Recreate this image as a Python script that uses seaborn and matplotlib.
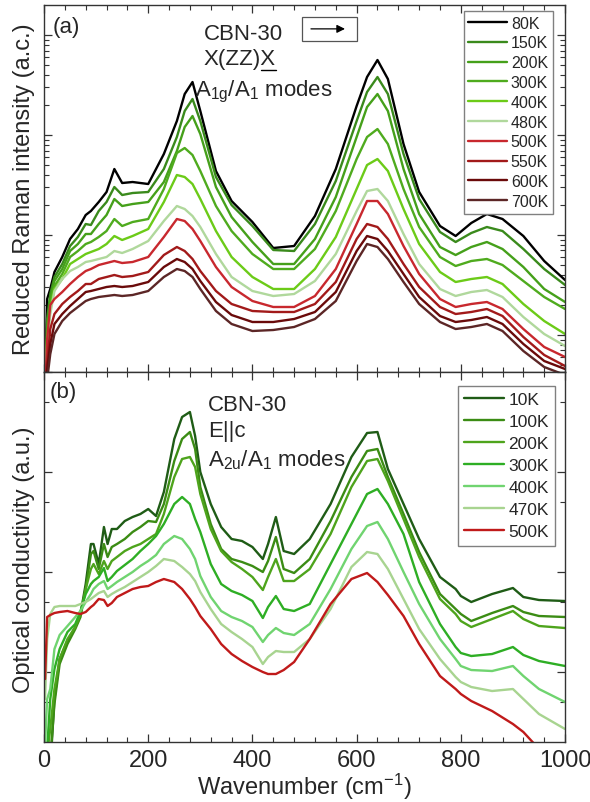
import numpy as np
import pandas as pd
import matplotlib
matplotlib.use("Agg")
import matplotlib.pyplot as plt
import seaborn as sns
from matplotlib.ticker import LogLocator, MultipleLocator, NullFormatter
from matplotlib.patches import Rectangle
from matplotlib.lines import Line2D

# ---- panel (a): reduced Raman intensity, log10 of arb. units ----
w_raman = [2, 6, 12, 20, 35, 50, 65, 80, 90, 105, 120, 135, 150, 170, 200, 230, 255, 270, 285, 300,
           330, 360, 400, 440, 480, 520, 560, 600, 620, 640, 660, 690, 720, 760, 790, 820, 850, 880,
           920, 960, 1000]
r80 = [-1.5, -0.64, -0.54, -0.37, -0.22, -0.04, 0.06, 0.20, 0.24, 0.33, 0.43, 0.66, 0.52, 0.53, 0.51, 0.81,
       1.14, 1.41, 1.53, 1.24, 0.64, 0.34, 0.13, -0.13, -0.11, 0.19, 0.66, 1.29, 1.58, 1.75, 1.56, 0.91,
       0.43, 0.09, -0.01, 0.12, 0.21, 0.16, -0.01, -0.26, -0.45]
r150 = [-1.5, -0.84, -0.59, -0.42, -0.29, -0.11, -0.02, 0.11, 0.10, 0.24, 0.33, 0.48, 0.40, 0.42, 0.43, 0.66,
        0.98, 1.24, 1.36, 1.14, 0.58, 0.30, 0.09, -0.15, -0.16, 0.11, 0.54, 1.14, 1.43, 1.58, 1.41, 0.81,
        0.36, 0.03, -0.07, 0.02, 0.08, 0.04, -0.14, -0.34, -0.50]
r200 = [-1.5, -0.94, -0.64, -0.46, -0.34, -0.16, -0.09, 0.01, 0.01, 0.11, 0.20, 0.36, 0.29, 0.31, 0.33, 0.53,
        0.84, 1.08, 1.19, 1.01, 0.48, 0.18, -0.07, -0.29, -0.29, -0.04, 0.38, 0.98, 1.28, 1.41, 1.24, 0.66,
        0.21, -0.12, -0.20, -0.12, -0.07, -0.14, -0.32, -0.54, -0.67]
r300 = [-1.5, -0.99, -0.69, -0.51, -0.39, -0.22, -0.16, -0.09, -0.07, -0.02, 0.04, 0.16, 0.09, 0.13, 0.16, 0.46,
        0.82, 0.87, 0.80, 0.64, 0.29, 0.04, -0.19, -0.34, -0.34, -0.14, 0.24, 0.76, 0.98, 1.06, 0.91, 0.46,
        0.08, -0.22, -0.31, -0.26, -0.24, -0.30, -0.46, -0.62, -0.74]
r400 = [-1.5, -1.04, -0.74, -0.54, -0.44, -0.29, -0.24, -0.19, -0.17, -0.14, -0.09, -0.01, -0.05, -0.01, 0.06,
        0.33, 0.60, 0.58, 0.51, 0.36, 0.04, -0.22, -0.42, -0.54, -0.54, -0.34, -0.02, 0.46, 0.70, 0.76, 0.64,
        0.26, -0.09, -0.37, -0.47, -0.44, -0.42, -0.49, -0.69, -0.86, -0.99]
r480 = [-1.5, -1.09, -0.79, -0.56, -0.44, -0.36, -0.32, -0.27, -0.26, -0.24, -0.22, -0.16, -0.18, -0.14, -0.06,
        0.14, 0.29, 0.26, 0.19, 0.08, -0.19, -0.42, -0.56, -0.61, -0.59, -0.46, -0.19, 0.24, 0.44, 0.46, 0.34,
        0.01, -0.29, -0.54, -0.61, -0.57, -0.55, -0.62, -0.82, -0.99, -1.11]
r500 = [-1.6, -1.04, -0.70, -0.64, -0.57, -0.49, -0.42, -0.36, -0.34, -0.30, -0.28, -0.26, -0.28, -0.27, -0.22,
        -0.02, 0.16, 0.14, 0.06, -0.06, -0.32, -0.52, -0.66, -0.72, -0.72, -0.61, -0.34, 0.11, 0.34, 0.34, 0.21,
        -0.11, -0.39, -0.64, -0.72, -0.69, -0.67, -0.74, -0.94, -1.12, -1.22]
r550 = [-1.6, -1.29, -0.94, -0.79, -0.69, -0.62, -0.56, -0.49, -0.49, -0.44, -0.42, -0.40, -0.42, -0.41, -0.37,
        -0.20, -0.12, -0.16, -0.24, -0.36, -0.56, -0.69, -0.76, -0.77, -0.77, -0.69, -0.47, -0.04, 0.11, 0.08,
        -0.04, -0.29, -0.52, -0.72, -0.79, -0.77, -0.74, -0.81, -1.02, -1.20, -1.31]
r600 = [-1.6, -1.34, -1.09, -0.89, -0.79, -0.71, -0.64, -0.57, -0.56, -0.54, -0.52, -0.51, -0.52, -0.51, -0.47,
        -0.32, -0.24, -0.27, -0.34, -0.46, -0.67, -0.80, -0.87, -0.87, -0.84, -0.77, -0.57, -0.16, -0.01, -0.04,
        -0.16, -0.39, -0.62, -0.81, -0.87, -0.85, -0.82, -0.89, -1.09, -1.26, -1.34]
r700 = [-1.6, -1.45, -1.19, -0.99, -0.86, -0.78, -0.72, -0.66, -0.64, -0.62, -0.61, -0.60, -0.61, -0.60, -0.56,
        -0.42, -0.34, -0.36, -0.42, -0.54, -0.76, -0.89, -0.96, -0.95, -0.92, -0.84, -0.66, -0.26, -0.09, -0.12,
        -0.24, -0.47, -0.69, -0.87, -0.94, -0.92, -0.89, -0.96, -1.16, -1.32, -1.40]
raman_labels = ['80K', '150K', '200K', '300K', '400K', '480K', '500K', '550K', '600K', '700K']
raman_colors = ['#000000', '#3a8a1c', '#45a01a', '#4fab1e', '#6ccb18', '#b0d89c',
                '#c8282e', '#a21a1a', '#6a0a0a', '#5c2626']

# ---- panel (b): optical conductivity, log10 of arb. units ----
w_opt = [2, 6, 12, 20, 30, 45, 60, 70, 80, 90, 95, 105, 115, 122, 130, 140, 155, 170, 185, 200,
         215, 230, 250, 265, 280, 290, 300, 320, 340, 360, 380, 400, 420, 430, 445, 460, 480, 510,
         550, 590, 620, 640, 660, 690, 720, 760, 790, 800, 820, 860, 900, 920, 950, 1000]
c10 = [-2.27, -2.27, -1.97, -1.27, -0.87, -0.69, -0.55, -0.42, -0.12, 0.28, 0.28, 0.08, 0.45, 0.28, 0.43, 0.43,
       0.51, 0.55, 0.58, 0.63, 0.56, 0.80, 1.33, 1.55, 1.60, 1.36, 1.00, 0.68, 0.45, 0.33, 0.31, 0.25, 0.13,
       0.28, 0.55, 0.21, 0.18, 0.33, 0.68, 1.15, 1.39, 1.40, 1.03, 0.68, 0.33, -0.05, -0.17, -0.24, -0.30,
       -0.22, -0.16, -0.25, -0.28, -0.29]
c100 = [-2.27, -2.27, -1.87, -1.32, -0.92, -0.72, -0.57, -0.45, -0.17, 0.18, 0.21, 0.03, 0.28, 0.15, 0.25, 0.28,
        0.33, 0.40, 0.45, 0.51, 0.50, 0.68, 1.11, 1.33, 1.40, 1.23, 0.85, 0.48, 0.23, 0.13, 0.10, 0.06, 0.00,
        0.11, 0.35, 0.03, -0.01, 0.13, 0.51, 0.95, 1.21, 1.23, 0.95, 0.58, 0.20, -0.22, -0.37, -0.42, -0.49,
        -0.41, -0.34, -0.40, -0.44, -0.45]
c200 = [-2.17, -1.82, -1.57, -1.17, -0.87, -0.67, -0.55, -0.42, -0.17, 0.03, 0.08, -0.02, 0.11, 0.03, 0.11, 0.15,
        0.21, 0.25, 0.28, 0.33, 0.38, 0.58, 0.95, 1.13, 1.15, 1.05, 0.78, 0.43, 0.21, 0.10, 0.03, -0.05, -0.18,
        -0.05, 0.13, -0.09, -0.09, 0.03, 0.38, 0.85, 1.11, 1.13, 0.91, 0.53, 0.15, -0.27, -0.42, -0.49, -0.55,
        -0.47, -0.39, -0.47, -0.54, -0.56]
c300 = [-1.87, -1.77, -1.27, -0.97, -0.77, -0.60, -0.52, -0.39, -0.22, -0.12, -0.09, -0.05, 0.04, -0.09, -0.05,
        0.01, 0.07, 0.13, 0.21, 0.28, 0.36, 0.48, 0.68, 0.75, 0.68, 0.53, 0.40, 0.08, -0.12, -0.19, -0.23, -0.29,
        -0.46, -0.35, -0.24, -0.37, -0.39, -0.32, 0.08, 0.48, 0.78, 0.83, 0.68, 0.38, -0.10, -0.52, -0.75, -0.81,
        -0.84, -0.82, -0.75, -0.83, -0.89, -0.94]
c400 = [-1.72, -1.27, -1.17, -0.77, -0.63, -0.54, -0.45, -0.39, -0.30, -0.22, -0.17, -0.12, -0.09, -0.17, -0.14,
        -0.10, -0.05, 0.00, 0.06, 0.11, 0.17, 0.28, 0.36, 0.33, 0.23, 0.13, -0.04, -0.25, -0.39, -0.45, -0.49,
        -0.55, -0.70, -0.63, -0.56, -0.61, -0.63, -0.52, -0.17, 0.23, 0.46, 0.50, 0.33, 0.00, -0.32, -0.67, -0.87,
        -0.94, -0.98, -0.99, -0.94, -1.04, -1.17, -1.30]
c470 = [-1.27, -0.67, -0.42, -0.35, -0.34, -0.34, -0.34, -0.32, -0.30, -0.27, -0.25, -0.21, -0.19, -0.25, -0.22,
        -0.19, -0.15, -0.10, -0.05, 0.00, 0.06, 0.13, 0.11, 0.05, -0.02, -0.09, -0.20, -0.37, -0.52, -0.60, -0.67,
        -0.75, -0.92, -0.85, -0.79, -0.80, -0.80, -0.67, -0.37, 0.05, 0.20, 0.18, 0.03, -0.27, -0.57, -0.87, -1.05,
        -1.10, -1.15, -1.19, -1.17, -1.27, -1.42, -1.57]
c500 = [-1.07, -0.45, -0.43, -0.41, -0.40, -0.39, -0.41, -0.42, -0.40, -0.35, -0.33, -0.27, -0.28, -0.34, -0.31,
        -0.25, -0.21, -0.17, -0.15, -0.14, -0.10, -0.07, -0.10, -0.17, -0.27, -0.35, -0.44, -0.57, -0.72, -0.82,
        -0.89, -0.95, -1.00, -1.02, -1.02, -0.98, -0.90, -0.67, -0.32, -0.07, -0.01, -0.10, -0.23, -0.44, -0.72,
        -1.04, -1.17, -1.22, -1.29, -1.39, -1.52, -1.60, -1.77, -1.97]
opt_labels = ['10K', '100K', '200K', '300K', '400K', '470K', '500K']
opt_colors = ['#1f5c16', '#3b8c14', '#4ea41c', '#2eae24', '#70d470', '#a8d490', '#c01a1a']


def long_form(w, series, labels):
    parts = []
    for lab, s in zip(labels, series):
        parts.append(pd.DataFrame({'w': w, 'I': np.power(10.0, s), 'T': lab}))
    return pd.concat(parts, ignore_index=True)


df_raman = long_form(w_raman, [r80, r150, r200, r300, r400, r480, r500, r550, r600, r700], raman_labels)
df_opt = long_form(w_opt, [c10, c100, c200, c300, c400, c470, c500], opt_labels)

sns.set_style("ticks")
plt.rcParams['font.family'] = ['Liberation Sans', 'DejaVu Sans']
plt.rcParams['mathtext.fontset'] = 'custom'
plt.rcParams['mathtext.rm'] = 'Liberation Sans'
plt.rcParams['mathtext.it'] = 'Liberation Sans:italic'
plt.rcParams['mathtext.bf'] = 'Liberation Sans:bold'

fig = plt.figure(figsize=(5.9, 8.03), dpi=100)
ax1 = fig.add_axes([0.0746, 0.5355, 0.8831, 0.4570])
ax2 = fig.add_axes([0.0746, 0.0747, 0.8831, 0.4608])
frame_col = '#333333'


def style_axis(ax, ylo, yhi, subs):
    ax.set_yscale('log')
    ax.set_xlim(0, 1000)
    ax.set_ylim(ylo, yhi)
    ax.xaxis.set_major_locator(MultipleLocator(200))
    ax.xaxis.set_minor_locator(MultipleLocator(40))
    ax.yaxis.set_major_locator(LogLocator(base=10, subs=(1.0,), numticks=50))
    ax.yaxis.set_minor_locator(LogLocator(base=10, subs=subs, numticks=50))
    ax.yaxis.set_major_formatter(NullFormatter())
    ax.yaxis.set_minor_formatter(NullFormatter())
    ax.tick_params(which='both', direction='in', top=True, right=True, color=frame_col)
    ax.tick_params(which='major', length=6, width=0.9)
    ax.tick_params(which='minor', length=3.5, width=0.8)
    for sp in ax.spines.values():
        sp.set_color(frame_col)
        sp.set_linewidth(1.0)


style_axis(ax1, 10 ** -1.37, 10 ** 2.30, (2, 3, 4, 5, 6, 7, 8, 9))
style_axis(ax2, 10 ** -1.70, 10 ** 2.00, (5,))

sns.lineplot(data=df_raman, x='w', y='I', hue='T', hue_order=raman_labels, palette=raman_colors,
             lw=1.7, errorbar=None, legend=False, ax=ax1)
sns.lineplot(data=df_opt, x='w', y='I', hue='T', hue_order=opt_labels, palette=opt_colors,
             lw=1.7, errorbar=None, legend=False, ax=ax2)

for ax in (ax1, ax2):
    ax.set_xlim(0, 1000)
ax1.set_ylim(10 ** -1.37, 10 ** 2.30)
ax2.set_ylim(10 ** -1.70, 10 ** 2.00)

ax1.tick_params(labelbottom=False)
ax2.tick_params(axis='x', labelsize=17, pad=5)
ax1.set_xlabel('')
ax2.set_xlabel('Wavenumber (cm$^{-1}$)', fontsize=17, labelpad=0)
ax1.set_ylabel('Reduced Raman intensity (a.c.)', fontsize=17)
ax2.set_ylabel('Optical conductivity (a.u.)', fontsize=17)
ax1.yaxis.set_label_coords(-0.017, 0.5)
ax2.yaxis.set_label_coords(-0.017, 0.495)

# legends
h1 = [Line2D([], [], color=c, lw=1.7) for c in raman_colors]
leg1 = ax1.legend(h1, raman_labels, loc='upper right', bbox_to_anchor=(0.977, 0.984), borderaxespad=0,
                  fontsize=11.5, fancybox=False, edgecolor='#808080', framealpha=1, handlelength=2.4,
                  handletextpad=0.25, labelspacing=0.3, borderpad=0.3)
leg1.get_frame().set_linewidth(1.0)
h2 = [Line2D([], [], color=c, lw=1.7) for c in opt_colors]
leg2 = ax2.legend(h2, opt_labels, loc='upper right', bbox_to_anchor=(0.981, 0.963), borderaxespad=0,
                  fontsize=12.5, fancybox=False, edgecolor='#808080', framealpha=1, handlelength=2.3,
                  handletextpad=0.25, labelspacing=0.4, borderpad=0.35)
leg2.get_frame().set_linewidth(1.0)

# annotations panel (a)
ax1.text(0.017, 0.927, '(a)', transform=ax1.transAxes, fontsize=16)
ax1.text(0.307, 0.907, 'CBN-30', transform=ax1.transAxes, fontsize=16)
t_geo = ax1.text(0.307, 0.839, 'X(ZZ)X', transform=ax1.transAxes, fontsize=16)
ax1.text(0.290, 0.753, r'A$_{\mathrm{1g}}$/A$_{\mathrm{1}}$ modes', transform=ax1.transAxes, fontsize=16)
ax1.add_patch(Rectangle((0.495, 0.903), 0.105, 0.063, transform=ax1.transAxes, fill=False,
                        edgecolor='#555555', lw=0.9))
ax1.annotate('', xy=(0.583, 0.935), xytext=(0.507, 0.935), xycoords='axes fraction',
             arrowprops=dict(arrowstyle='-|>', color='k', lw=0.9, mutation_scale=12))

# bar under the last X of the geometry label
fig.canvas.draw()
rend = fig.canvas.get_renderer()
full = t_geo.get_window_extent(rend)
tmp = ax1.text(0.307, 0.839, 'X(ZZ)', transform=ax1.transAxes, fontsize=16)
part = tmp.get_window_extent(rend)
tmp.remove()
yb = ax1.transAxes.transform((0, 0.839))[1] - 6
W, H = fig.bbox.width, fig.bbox.height
fig.add_artist(Line2D([part.x1 / W, full.x1 / W], [yb / H, yb / H], transform=fig.transFigure,
                      color='k', lw=1.0))

# annotations panel (b)
ax2.text(0.0115, 0.932, '(b)', transform=ax2.transAxes, fontsize=16)
ax2.text(0.315, 0.897, 'CBN-30', transform=ax2.transAxes, fontsize=16)
ax2.text(0.315, 0.828, 'E||c', transform=ax2.transAxes, fontsize=16)
ax2.text(0.315, 0.747, r'A$_{\mathrm{2u}}$/A$_{\mathrm{1}}$ modes', transform=ax2.transAxes, fontsize=16)

fig.savefig('out.png', dpi=100)
